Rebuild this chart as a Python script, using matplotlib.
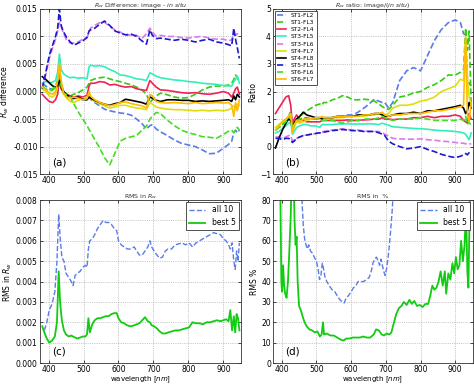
import matplotlib
matplotlib.use("Agg")
import matplotlib.pyplot as plt
import numpy as np

# ---- data -----------------------------------------------------------------
# common wavelength grid for the two upper panels (nm)
WL = [382, 392, 402, 412, 420, 426, 431, 436, 443, 452,
      462, 472, 485, 498, 510, 516, 520, 532, 546, 560,
      575, 590, 605, 620, 637, 652, 667, 680, 690, 697,
      708, 720, 740, 760, 780, 800, 820, 840, 860, 880,
      900, 915, 924, 930, 935, 940, 946]

STATIONS = ["ST1-FL2", "ST1-FL3", "ST2-FL4", "ST3-FL5", "ST3-FL6",
            "ST4-FL7", "ST4-FL8", "ST5-FL5", "ST6-FL6", "ST6-FL7"]

# Rw difference image - in situ, in units of 1e-3
DIFF_ST1_FL2 = [1.5, 1.0, 0.5, 0.5, 0.8, 2.0, 3.5, 1.5, 0.0, -0.8,
                -1.2, -1.3, -1.2, -1.5, -1.5, -1.0, -1.4, -2.0, -2.6, -3.2,
                -3.5, -3.7, -3.9, -4.0, -4.3, -5.0, -5.8, -6.8, -6.2, -6.0,
                -6.8, -7.3, -8.0, -8.8, -9.4, -9.7, -10.0, -10.6, -11.3, -11.2,
                -10.3, -9.6, -9.0, -7.5, -7.0, -7.5, -7.0]
DIFF_ST1_FL3 = [0.5, 0.3, 0.0, 0.3, 0.8, 1.5, 3.0, 1.2, 0.0, -0.5,
                -0.8, -0.5, -0.2, 0.3, 0.8, 1.5, 2.0, 2.3, 2.5, 2.6,
                2.3, 2.0, 1.8, 1.5, 1.2, 0.8, 0.3, -0.5, -2.0, -1.5,
                -0.8, -0.3, -0.6, -1.0, -1.2, -1.1, -0.5, 0.3, 0.8, 1.0,
                1.0, 1.2, 1.5, 2.2, 3.0, 2.5, 1.8]
DIFF_ST2_FL4 = [-0.5, -1.2, -1.8, -2.0, -1.5, -0.5, 2.2, 0.5, -0.2, -0.5,
                -0.8, -1.0, -0.8, -1.0, -0.7, 1.0, 1.5, 1.5, 1.8, 1.7,
                1.2, 1.3, 1.0, 0.8, 0.9, 0.5, 0.3, 0.2, 2.0, 1.5,
                0.8, 0.3, 0.2, 0.0, -0.2, -0.3, -0.2, -0.4, -0.5, -0.3,
                0.0, -0.3, -1.0, -0.3, 0.5, 0.8, -0.5]
DIFF_ST3_FL5 = [1.5, 1.8, 1.6, 1.7, 2.0, 3.5, 6.8, 4.0, 3.2, 2.8,
                2.5, 2.6, 2.4, 2.5, 2.3, 4.5, 4.8, 4.6, 4.7, 4.5,
                4.0, 3.6, 3.0, 2.9, 2.6, 2.3, 2.2, 2.0, 3.4, 3.2,
                2.8, 2.5, 2.3, 2.1, 2.0, 1.8, 1.7, 1.5, 1.4, 1.3,
                1.1, 1.0, 1.0, 1.8, 2.2, 2.8, 1.5]
DIFF_ST3_FL6 = [0.8, 3.0, 6.0, 8.0, 9.5, 11.0, 12.5, 11.8, 10.5, 9.3,
                8.8, 8.8, 9.0, 9.5, 9.8, 10.8, 11.5, 12.0, 12.5, 12.6,
                11.8, 11.2, 10.8, 10.2, 10.3, 10.2, 9.6, 10.5, 11.5, 10.8,
                10.0, 10.2, 10.0, 10.0, 9.8, 9.7, 9.9, 10.0, 9.7, 9.5,
                9.5, 9.2, 9.4, 10.5, 10.2, 10.5, 10.0]
DIFF_ST4_FL7 = [0.5, 0.0, -0.8, -1.0, -0.5, 1.0, 4.0, 1.5, -0.5, -1.2,
                -1.8, -2.0, -1.6, -1.2, -1.0, -0.6, -1.3, -1.8, -2.2, -2.6,
                -3.0, -2.8, -2.5, -2.5, -2.8, -3.0, -3.1, -3.3, -2.0, -2.3,
                -2.8, -3.0, -3.2, -3.3, -3.3, -3.4, -3.5, -3.4, -3.5, -3.4,
                -3.5, -3.3, -3.0, -2.6, -2.8, -2.3, -2.5]
DIFF_ST4_FL8 = [2.7, 2.2, 1.6, 1.0, 0.8, 1.0, 2.2, 0.8, 0.0, -0.6,
                -1.0, -1.2, -1.0, -1.4, -1.5, -1.0, -1.2, -1.6, -2.0, -2.3,
                -2.5, -2.2, -2.0, -1.4, -1.6, -1.8, -2.0, -2.3, -1.0, -1.2,
                -1.6, -1.8, -1.5, -1.5, -1.6, -1.6, -1.8, -1.7, -1.8, -1.7,
                -1.6, -1.5, -1.8, -0.8, -1.5, -0.5, -1.0]
DIFF_ST5_FL5 = [0.5, 3.5, 6.5, 8.5, 10.0, 11.5, 15.0, 12.0, 10.8, 9.8,
                9.0, 8.4, 8.8, 9.2, 9.8, 11.0, 11.2, 11.5, 12.2, 12.8,
                12.0, 11.0, 10.6, 10.3, 10.4, 10.0, 9.2, 8.6, 11.2, 10.2,
                9.6, 9.7, 9.5, 9.3, 9.5, 9.3, 9.0, 9.3, 9.5, 9.0,
                8.8, 8.5, 8.3, 11.5, 9.5, 8.0, 6.0]
DIFF_ST6_FL6 = [1.0, 0.5, 0.2, 0.5, 1.0, 2.0, 3.0, 1.0, -0.3, -0.6,
                -1.0, -2.2, -3.7, -5.0, -6.2, -6.9, -7.3, -8.7, -10.2, -12.0,
                -13.3, -11.2, -9.0, -8.5, -8.2, -8.0, -7.0, -6.3, -5.0, -4.5,
                -3.8, -4.0, -5.2, -6.2, -7.0, -7.5, -7.8, -8.2, -8.3, -8.5,
                -7.8, -7.2, -7.0, -7.5, -7.0, -6.5, -7.0]
DIFF_ST6_FL7 = [0.8, 0.3, -0.3, -0.5, 0.0, 2.0, 5.2, 2.0, -0.3, -1.0,
                -1.2, -1.0, -1.2, -1.5, -1.3, 0.0, -0.8, -1.5, -2.0, -2.3,
                -2.6, -2.4, -2.0, -1.9, -2.2, -2.4, -2.6, -3.0, -0.5, -0.8,
                -1.8, -2.0, -2.1, -2.0, -2.1, -2.2, -2.0, -2.2, -2.1, -2.0,
                -2.1, -2.0, -2.5, -4.5, -2.0, -3.5, -1.5]

# Rw ratio image / in situ
RATIO_ST1_FL2 = [0.6, 0.7, 0.8, 0.9, 1.0, 1.1, 0.6, 0.8, 0.9, 1.0,
                 1.05, 1.05, 1.0, 1.0, 1.0, 1.05, 1.0, 1.0, 1.05, 1.1,
                 1.1, 1.15, 1.15, 1.25, 1.4, 1.55, 1.72, 1.65, 1.6, 1.6,
                 1.4, 1.6, 2.4, 2.75, 2.87, 2.75, 3.3, 3.85, 4.25, 4.5,
                 4.6, 4.5, 4.1, 4.05, 2.45, 2.3, 2.2]
RATIO_ST1_FL3 = [0.6, 0.7, 0.8, 0.9, 1.1, 1.3, 0.6, 0.9, 1.0, 1.1,
                 1.2, 1.3, 1.4, 1.5, 1.55, 1.5, 1.6, 1.6, 1.7, 1.75,
                 1.85, 1.8, 1.7, 1.7, 1.72, 1.7, 1.65, 1.55, 1.45, 1.4,
                 1.35, 1.5, 1.8, 1.85, 1.95, 2.0, 2.15, 2.25, 2.4, 2.6,
                 2.6, 2.7, 2.8, 4.3, 3.5, 4.2, 1.5]
RATIO_ST2_FL4 = [1.2, 1.4, 1.6, 1.8, 1.85, 1.5, 0.75, 1.0, 1.15, 1.0,
                 0.95, 0.9, 0.9, 0.9, 0.9, 0.95, 0.95, 0.95, 0.95, 0.95,
                 0.95, 0.97, 0.95, 0.95, 0.97, 0.98, 1.0, 1.0, 1.05, 1.0,
                 1.0, 0.98, 1.0, 1.0, 1.05, 1.05, 1.1, 1.05, 1.1, 1.1,
                 1.15, 1.1, 0.95, 0.9, 0.85, 1.2, 1.0]
RATIO_ST3_FL5 = [0.5, 0.55, 0.65, 0.75, 0.85, 0.9, 0.45, 0.55, 0.7, 0.75,
                 0.8, 0.8, 0.75, 0.75, 0.7, 0.8, 0.8, 0.8, 0.8, 0.82,
                 0.82, 0.83, 0.82, 0.82, 0.82, 0.83, 0.82, 0.8, 0.85, 0.82,
                 0.78, 0.72, 0.7, 0.68, 0.66, 0.65, 0.63, 0.6, 0.58, 0.57,
                 0.55, 0.52, 0.5, 0.45, 0.35, 0.25, 0.5]
RATIO_ST3_FL6 = [0.35, 0.35, 0.3, 0.35, 0.4, 0.4, 0.2, 0.25, 0.3, 0.35,
                 0.4, 0.42, 0.45, 0.47, 0.5, 0.52, 0.55, 0.57, 0.6, 0.62,
                 0.65, 0.62, 0.6, 0.6, 0.57, 0.55, 0.55, 0.55, 0.5, 0.45,
                 0.38, 0.3, 0.28, 0.27, 0.27, 0.28, 0.25, 0.23, 0.2, 0.18,
                 0.15, 0.13, 0.12, 0.1, 0.12, 0.1, 0.1]
RATIO_ST4_FL7 = [0.7, 0.8, 0.9, 1.0, 1.1, 1.2, 0.5, 0.7, 0.9, 0.85,
                 0.9, 0.95, 1.0, 1.0, 1.0, 1.05, 1.0, 1.0, 1.05, 1.05,
                 1.05, 1.1, 1.1, 1.1, 1.1, 1.15, 1.15, 1.2, 1.15, 1.15,
                 1.2, 1.4, 1.5, 1.5, 1.55, 1.65, 1.7, 1.8, 2.0, 2.1,
                 2.2, 2.45, 2.4, 3.9, 2.5, 1.8, 1.5]
RATIO_ST4_FL8 = [-0.05, 0.3, 0.6, 0.85, 1.0, 0.95, 0.7, 0.85, 1.0, 1.1,
                 1.25, 1.15, 1.1, 1.05, 1.05, 1.0, 1.05, 1.05, 1.05, 1.1,
                 1.1, 1.1, 1.1, 1.15, 1.15, 1.15, 1.2, 1.2, 1.15, 1.1,
                 1.1, 1.15, 1.2, 1.2, 1.25, 1.2, 1.3, 1.3, 1.35, 1.4,
                 1.45, 1.5, 1.4, 1.2, 1.3, 1.6, 1.4]
RATIO_ST5_FL5 = [0.3, 0.3, 0.25, 0.3, 0.3, 0.25, 0.15, 0.2, 0.3, 0.35,
                 0.4, 0.42, 0.45, 0.48, 0.5, 0.5, 0.52, 0.55, 0.58, 0.6,
                 0.62, 0.6, 0.58, 0.58, 0.55, 0.55, 0.55, 0.5, 0.45, 0.4,
                 0.2, 0.1, 0.0, -0.08, -0.05, 0.0, -0.1, -0.18, -0.28, -0.35,
                 -0.4, -0.35, -0.3, -0.25, -0.3, -0.22, -0.25]
RATIO_ST6_FL6 = [0.6, 0.7, 0.8, 0.9, 1.0, 1.1, 0.6, 0.8, 0.95, 1.0,
                 1.05, 1.0, 1.0, 1.0, 1.0, 0.95, 0.95, 0.95, 0.95, 0.9,
                 0.85, 0.9, 0.95, 0.95, 1.0, 1.0, 1.0, 1.05, 1.1, 1.05,
                 1.0, 0.95, 1.0, 1.0, 1.0, 1.05, 1.0, 0.95, 0.95, 0.95,
                 0.95, 1.0, 0.95, 1.1, 0.8, 0.9, 0.75]
RATIO_ST6_FL7 = [0.6, 0.75, 0.9, 1.0, 1.1, 1.15, 0.5, 0.8, 0.95, 0.9,
                 1.0, 1.0, 1.0, 1.05, 1.05, 1.1, 1.05, 1.05, 1.05, 1.1,
                 1.1, 1.1, 1.1, 1.1, 1.15, 1.15, 1.2, 1.2, 1.25, 1.15,
                 1.1, 1.15, 1.15, 1.2, 1.2, 1.2, 1.25, 1.3, 1.3, 1.35,
                 1.4, 1.45, 1.5, 4.0, 1.2, 0.9, 1.6]

# RMS in Rw (units of 1e-3)
WL_RMS = [382, 388, 395, 402, 410, 418, 424, 429, 433, 438,
          444, 450, 458, 465, 470, 476, 482, 490, 498, 505,
          510, 514, 518, 525, 532, 540, 548, 556, 564, 572,
          580, 588, 595, 600, 608, 616, 625, 635, 645, 652,
          660, 668, 676, 684, 690, 695, 702, 710, 718, 726,
          734, 742, 752, 762, 772, 782, 792, 802, 812, 822,
          832, 842, 852, 862, 872, 882, 892, 900, 908, 915,
          920, 925, 930, 934, 938, 942, 946]
RMS_ALL10 = [np.nan, 1.6, 2.0, 2.6, 2.9, 3.5, 5.0, 7.3, 6.2, 5.2,
             5.0, 4.4, 4.2, 4.0, 3.8, 4.3, 4.4, 4.5, 4.7, 4.8,
             4.7, 5.6, 6.0, 6.1, 6.3, 6.6, 6.8, 7.0, 6.9, 6.9,
             6.8, 6.6, 6.5, 6.0, 5.8, 5.7, 5.6, 5.6, 5.7, 5.5,
             5.3, 5.3, 5.5, 5.7, 6.0, 5.7, 5.5, 5.3, 5.15, 5.2,
             5.5, 5.6, 5.6, 5.8, 5.85, 5.9, 5.8, 5.9, 5.7, 5.9,
             6.0, 6.1, 6.2, 6.3, 6.4, 6.35, 6.3, 6.1, 6.0, 5.8,
             5.6, 5.9, 5.0, 4.6, 5.5, 5.0, 5.9]
RMS_BEST5 = [1.8, 1.5, 1.2, 1.0, 1.1, 1.3, 2.0, 4.5, 3.0, 2.1,
             1.6, 1.4, 1.3, 1.35, 1.3, 1.25, 1.2, 1.25, 1.3, 1.3,
             1.4, 2.2, 1.5, 1.9, 2.1, 2.2, 2.2, 2.25, 2.3, 2.3,
             2.4, 2.45, 2.45, 2.2, 2.0, 1.95, 1.85, 1.8, 1.85, 1.9,
             1.95, 2.1, 2.25, 2.05, 2.0, 1.85, 1.8, 1.7, 1.55, 1.45,
             1.45, 1.5, 1.55, 1.6, 1.6, 1.65, 1.7, 1.75, 2.0, 1.95,
             1.95, 1.9, 2.0, 2.0, 2.05, 2.1, 2.05, 2.1, 2.15, 2.05,
             2.6, 1.6, 2.3, 1.5, 2.4, 2.2, 1.6]

# RMS in percent
WL_PCT_ALL10 = [455, 459, 462, 466, 470, 474, 478, 483, 488, 494,
                500, 505, 509, 513, 517, 521, 525, 530, 537, 545,
                553, 560, 568, 575, 580, 586, 592, 600, 607, 614,
                620, 628, 636, 645, 652, 658, 663, 668, 673, 678,
                682, 686, 690, 694, 698, 703, 708, 713, 718, 722, 726]
PCT_ALL10 = [95, 78, 68, 61, 58, 56, 58, 55, 54, 52,
             50, 46, 41, 43, 49, 46, 42, 40, 38, 36,
             35, 33, 31, 30, 29.5, 32, 33, 35, 37, 38,
             40, 40, 40, 41, 42, 45, 49, 51, 52, 50,
             48, 51, 48, 45, 43, 47, 54, 63, 74, 85, 95]
WL_PCT_BEST5 = [390, 396, 399, 401, 404, 407, 410, 414, 418, 422,
                426, 429, 434, 437, 440, 443, 446, 450, 455, 460,
                466, 472, 480, 488, 495, 503, 510, 515, 519, 522,
                530, 540, 550, 560, 570, 578, 586, 595, 605, 615,
                625, 635, 645, 655, 665, 672, 680, 688, 695, 702,
                710, 716, 722, 730, 738, 745, 752, 760, 768, 775,
                782, 790, 798, 806, 814, 822, 828, 834, 840, 846,
                852, 858, 864, 870, 874, 880, 886, 892, 897, 902,
                907, 912, 917, 922, 927, 931, 935, 938, 942, 946]
PCT_BEST5 = [95, 85, 40, 35, 48, 38, 34, 32, 40, 55,
             72, 95, 95, 70, 58, 62, 40, 28, 26, 23,
             20, 18, 16.5, 16, 15, 15.5, 13, 14, 20, 14,
             14.5, 13.5, 13.5, 12.5, 11.5, 11, 12, 12, 12.5, 12.5,
             12.5, 13, 12.5, 12.5, 14, 16.5, 16, 14, 13.5, 14.5,
             14, 15, 19, 24, 27, 28, 30, 28.5, 31, 29,
             30.5, 28, 28.5, 27.5, 29, 29, 33, 38, 36, 37,
             40, 45, 38, 45, 34, 44, 41, 49, 44, 52,
             46, 48, 60, 50, 58, 76, 45, 37, 80, 95]

# ---- styles ---------------------------------------------------------------
STYLES = {
    "ST1-FL2": ("#5b7be8", "--"),
    "ST1-FL3": ("#33cc11", "--"),
    "ST2-FL4": ("#ee2255", "-"),
    "ST3-FL5": ("#33eebb", "-"),
    "ST3-FL6": ("#dd77ee", "--"),
    "ST4-FL7": ("#dddd11", "-"),
    "ST4-FL8": ("#000000", "-"),
    "ST5-FL5": ("#1a1acc", "--"),
    "ST6-FL6": ("#44dd22", "--"),
    "ST6-FL7": ("#ffbb00", "-"),
}

DIFF = [DIFF_ST1_FL2, DIFF_ST1_FL3, DIFF_ST2_FL4, DIFF_ST3_FL5, DIFF_ST3_FL6,
        DIFF_ST4_FL7, DIFF_ST4_FL8, DIFF_ST5_FL5, DIFF_ST6_FL6, DIFF_ST6_FL7]
RATIO = [RATIO_ST1_FL2, RATIO_ST1_FL3, RATIO_ST2_FL4, RATIO_ST3_FL5, RATIO_ST3_FL6,
         RATIO_ST4_FL7, RATIO_ST4_FL8, RATIO_ST5_FL5, RATIO_ST6_FL6, RATIO_ST6_FL7]

TICK_FS = 5.5
ALL_COLOR = "#5b7be8"
BEST_COLOR = "#11cc11"


def _setup(ax, title, ylabel, letter, xlabel=None):
    ax.set_title(title, fontsize=4.5, pad=1.5, color="#333333")
    ax.set_ylabel(ylabel, fontsize=5.5, labelpad=1.5)
    if xlabel:
        ax.set_xlabel(xlabel, fontsize=5, labelpad=0.3)
    ax.set_xlim(375, 950)
    ax.set_xticks([400, 500, 600, 700, 800, 900])
    ax.tick_params(labelsize=TICK_FS, direction="in", top=True, right=True,
                   length=2.5, width=0.5, pad=1.5)
    ax.grid(True, linestyle=":", linewidth=0.5, color="#999999")
    for sp in ax.spines.values():
        sp.set_linewidth(0.6)
        sp.set_color("#333333")
    ax.text(0.06, 0.05, letter, transform=ax.transAxes, fontsize=7.5)


fig = plt.figure(figsize=(4.74, 3.87), dpi=100)
ax_a = fig.add_axes([0.084, 0.550, 0.424, 0.427])
ax_b = fig.add_axes([0.576, 0.550, 0.421, 0.427])
ax_c = fig.add_axes([0.084, 0.062, 0.424, 0.421])
ax_d = fig.add_axes([0.576, 0.062, 0.421, 0.421])

# (a) difference
for name, vals in zip(STATIONS, DIFF):
    color, ls = STYLES[name]
    ax_a.plot(WL, np.array(vals) * 1e-3, color=color, linestyle=ls, linewidth=1.2)
ax_a.set_ylim(-0.015, 0.015)
ax_a.set_yticks([-0.015, -0.01, -0.005, 0, 0.005, 0.01, 0.015])
ax_a.yaxis.set_major_formatter(plt.FormatStrFormatter("%.3f"))
_setup(ax_a, r"$R_w$ Difference: image - $in\ situ$", r"$R_w$ difference", "(a)")

# (b) ratio
for name, vals in zip(STATIONS, RATIO):
    color, ls = STYLES[name]
    ax_b.plot(WL, vals, color=color, linestyle=ls, linewidth=1.2, label=name)
ax_b.set_ylim(-1, 5)
_setup(ax_b, r"$R_w$ ratio: image/($in\ situ$)", "Ratio", "(b)")
leg = ax_b.legend(loc="upper left", fontsize=4.2, handlelength=1.6,
                  labelspacing=0.35, borderpad=0.4, borderaxespad=0.3,
                  fancybox=False, framealpha=1)
leg.get_frame().set_edgecolor("#333333")
leg.get_frame().set_linewidth(0.6)

# (c) RMS in Rw
ax_c.plot(WL_RMS, np.array(RMS_ALL10) * 1e-3, color=ALL_COLOR, linestyle="--",
          linewidth=1.0, label="all 10")
ax_c.plot(WL_RMS, np.array(RMS_BEST5) * 1e-3, color=BEST_COLOR, linestyle="-",
          linewidth=1.3, label="best 5")
ax_c.set_ylim(0, 0.008)
ax_c.yaxis.set_major_formatter(plt.FormatStrFormatter("%.3f"))
_setup(ax_c, r"RMS in $R_w$", r"RMS in $R_w$", "(c)", r"wavelength [$nm$]")

# (d) RMS in %
ax_d.plot(WL_PCT_ALL10, PCT_ALL10, color=ALL_COLOR, linestyle="--",
          linewidth=1.0, label="all 10")
ax_d.plot(WL_PCT_BEST5, PCT_BEST5, color=BEST_COLOR, linestyle="-",
          linewidth=1.3, label="best 5")
ax_d.set_ylim(0, 80)
_setup(ax_d, "RMS in  %", "RMS %", "(d)", r"wavelength [$nm$]")

for ax in (ax_c, ax_d):
    lg = ax.legend(loc="upper right", fontsize=5.5, handlelength=2.2,
                   borderaxespad=0.3, fancybox=False, framealpha=1)
    lg.get_frame().set_edgecolor("#333333")
    lg.get_frame().set_linewidth(0.6)

fig.savefig("out.png", dpi=100)
